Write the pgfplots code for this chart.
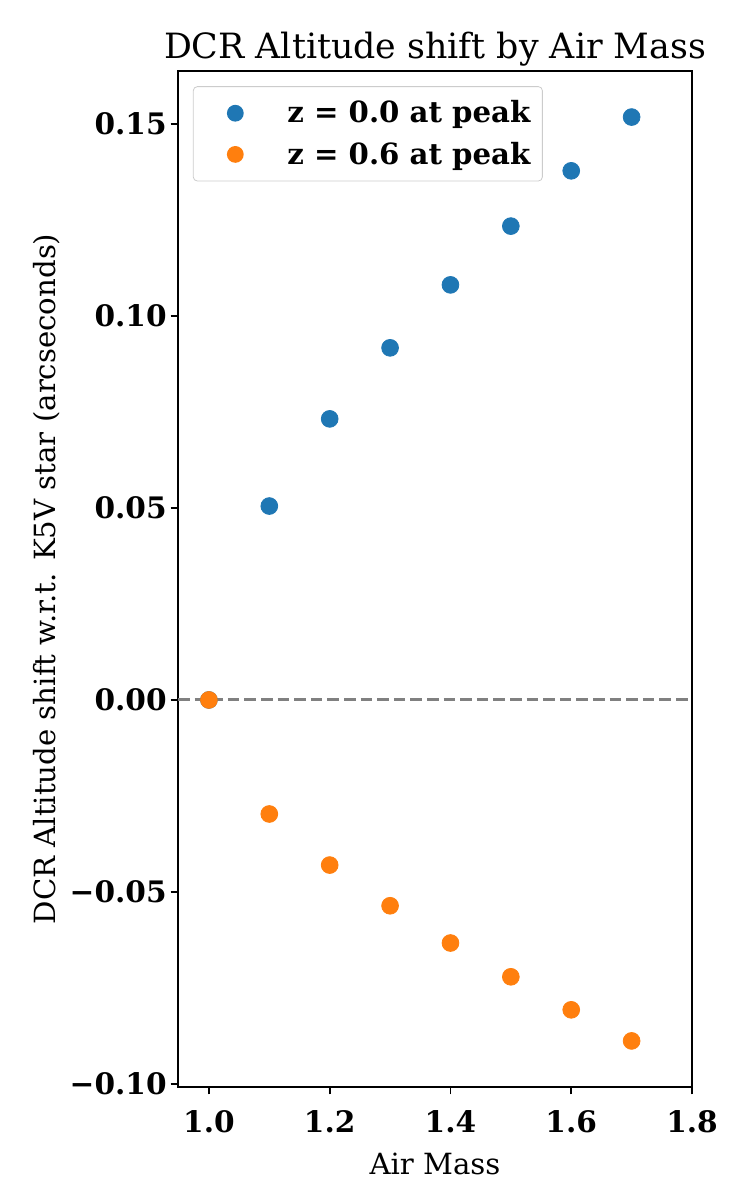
\documentclass[border=0pt]{standalone}
\usepackage{pgfplots}
\pgfplotsset{compat=1.18}
\usepackage{fontspec}
\setmainfont{DejaVu Serif}
\definecolor{mplblue}{HTML}{1F77B4}
\definecolor{mplorange}{HTML}{FF7F0E}
\begin{document}
\begin{tikzpicture}[x=1pt,y=1pt]
\useasboundingbox (0,0) rectangle (375,600);
\begin{axis}[
  at={(89pt,56.5pt)}, anchor=south west,
  scale only axis, width=257pt, height=508pt,
  xmin=0.9488, xmax=1.8, ymin=-0.1008, ymax=0.1638,
  axis line style={line width=0.83pt},
  every tick/.style={line width=0.83pt, black},
  tick align=outside, major tick length=3.65pt,
  xtick={1.0,1.2,1.4,1.6,1.8},
  xticklabels={\textbf{1.0},\textbf{1.2},\textbf{1.4},\textbf{1.6},\textbf{1.8}},
  ytick={-0.10,-0.05,0,0.05,0.10,0.15},
  yticklabels={\textbf{−0.10},\textbf{−0.05},\textbf{0.00},\textbf{0.05},\textbf{0.10},\textbf{0.15}},
  xtick pos=bottom, ytick pos=left,
  ticklabel style={font=\fontsize{14.8}{17}\selectfont},
  xticklabel style={yshift=-4.5pt},
  yticklabel style={xshift=1.5pt},
  title={DCR Altitude shift by Air Mass},
  title style={font=\fontsize{17.4}{20}\selectfont, yshift=-7pt},
  xlabel={Air Mass},
  ylabel={DCR Altitude shift w.r.t. K5V star (arcseconds)},
  label style={font=\fontsize{14.6}{17}\selectfont},
  xlabel style={yshift=-3.5pt},
  ylabel style={yshift=-2pt},
  legend style={at={(0.029,0.985)}, anchor=north west, draw=black!20, rounded corners=2pt,
     font=\fontsize{14.6}{17}\selectfont\bfseries, inner xsep=4pt, inner ysep=5pt, row sep=4pt,
     fill=white, fill opacity=0.8, text opacity=1},
  legend cell align=left,
  legend image code/.code={\path[draw=none,fill=none] (0pt,0pt) -- (41pt,0pt); \fill[#1, draw=none, fill opacity=1] (17pt,0pt) circle (4.2pt);},
]
\addplot[forget plot, gray, line width=1.5pt, dash pattern=on 5.8pt off 2.5pt] coordinates {(0.9488,0) (1.8,0)};
\addplot[only marks, mark=*, mark size=4.2pt, color=mplblue, mark options={draw=none, fill=mplblue}] coordinates {
(1.0,0.0) (1.1,0.0505) (1.2,0.0732) (1.3,0.0917) (1.4,0.1081) (1.5,0.1234) (1.6,0.1378) (1.7,0.1518)};
\addlegendentry{z = 0.0 at peak}
\addplot[only marks, mark=*, mark size=4.2pt, color=mplorange, mark options={draw=none, fill=mplorange}] coordinates {
(1.0,0.0) (1.1,-0.0297) (1.2,-0.0430) (1.3,-0.0536) (1.4,-0.0633) (1.5,-0.0721) (1.6,-0.0807) (1.7,-0.0888)};
\addlegendentry{z = 0.6 at peak}
\end{axis}
\end{tikzpicture}
\end{document}
